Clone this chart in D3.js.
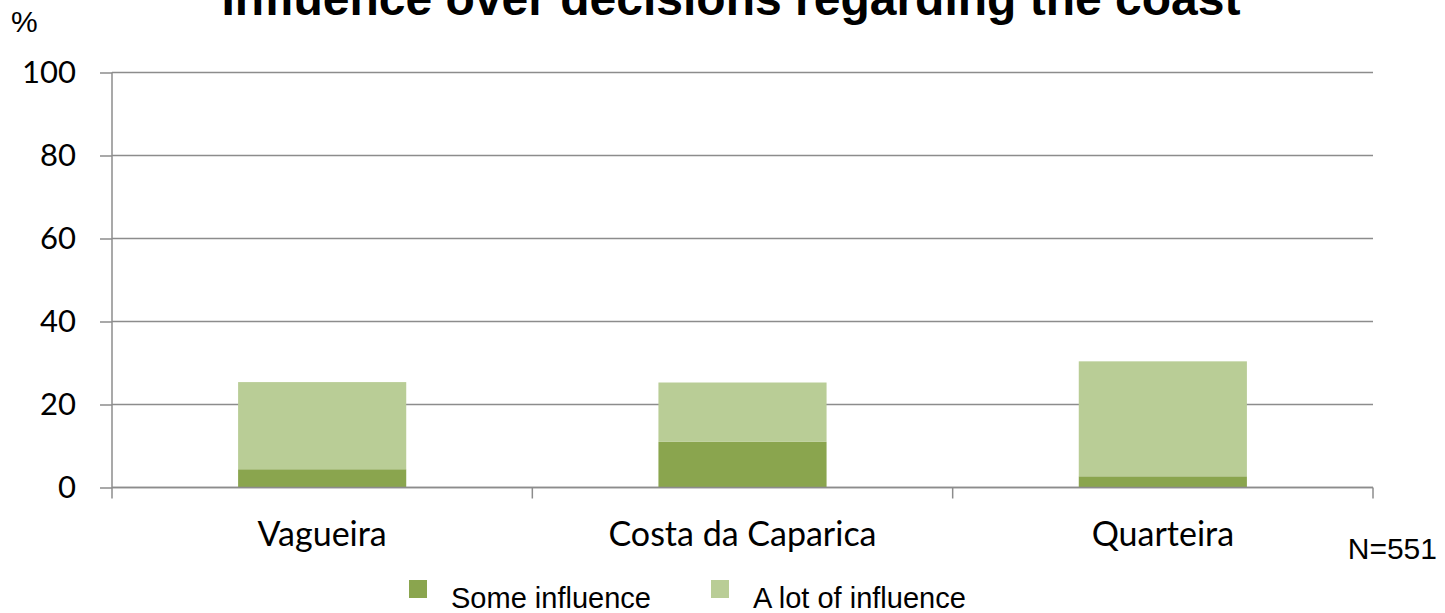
<!DOCTYPE html>
<html>
<head>
<meta charset="utf-8">
<script src="https://cdn.jsdelivr.net/npm/d3@7"></script>
<style>
  body { margin: 0; background: #fff; }
  svg { display: block; }
</style>
</head>
<body>
<div id="chart"></div>
<script>
// data
const categories = ["Vagueira", "Costa da Caparica", "Quarteira"];
const seriesNames = ["Some influence", "A lot of influence"];
const someInfluence = [4.4, 11.0, 2.7];
const aLotOfInfluence = [21.0, 14.3, 27.7];
const yTicks = [0, 20, 40, 60, 80, 100];
const colors = ["#8aa54e", "#b9cd96"];

const width = 1445, height = 613;
const margin = { top: 72, right: 72, bottom: 126, left: 112 };

const svg = d3.select("#chart").append("svg")
    .attr("width", width)
    .attr("height", height);

const x = d3.scaleBand()
    .domain(categories)
    .range([margin.left, width - margin.right])
    .paddingInner(0.6)
    .paddingOuter(0.3);

const y = d3.scaleLinear()
    .domain([0, 100])
    .range([height - margin.bottom + 0.5, margin.top + 0.5]);

// gridlines
svg.append("g")
    .selectAll("line")
    .data(yTicks)
    .join("line")
    .attr("x1", margin.left)
    .attr("x2", width - margin.right)
    .attr("y1", d => y(d))
    .attr("y2", d => y(d))
    .attr("stroke", "#8c8c8c")
    .attr("stroke-width", 1.5);

// stacked bars
const table = categories.map((c, i) => ({ cat: c, some: someInfluence[i], lot: aLotOfInfluence[i] }));
const stacked = d3.stack().keys(["some", "lot"])(table);

svg.append("g")
    .selectAll("g")
    .data(stacked)
    .join("g")
    .attr("fill", (d, i) => colors[i])
    .selectAll("rect")
    .data(d => d)
    .join("rect")
    .attr("x", d => x(d.data.cat))
    .attr("width", x.bandwidth())
    .attr("y", d => y(d[1]))
    .attr("height", d => y(d[0]) - y(d[1]));

// redraw baseline over bars
svg.append("line")
    .attr("x1", margin.left)
    .attr("x2", width - margin.right)
    .attr("y1", y(0))
    .attr("y2", y(0))
    .attr("stroke", "#8c8c8c")
    .attr("stroke-width", 1.5);

// y axis
const yAxis = svg.append("g")
    .attr("transform", `translate(${margin.left},0)`)
    .call(d3.axisLeft(y).tickValues(yTicks).tickSize(12).tickPadding(24));
yAxis.selectAll("line").attr("stroke", "#8c8c8c").attr("stroke-width", 1.5);
yAxis.select(".domain").remove();
yAxis.selectAll("text")
    .style("font-family", "Lato, sans-serif")
    .style("font-size", "31px")
    .attr("fill", "#000");

svg.append("line")
    .attr("x1", margin.left)
    .attr("x2", margin.left)
    .attr("y1", y(100))
    .attr("y2", y(0) + 11)
    .attr("stroke", "#8c8c8c")
    .attr("stroke-width", 1.5);

// x axis ticks at band boundaries
const step = x.step();
svg.append("g")
    .selectAll("line")
    .data(categories)
    .join("line")
    .attr("x1", d => x(d) + x.bandwidth() / 2 + step / 2)
    .attr("x2", d => x(d) + x.bandwidth() / 2 + step / 2)
    .attr("y1", y(0))
    .attr("y2", y(0) + 11)
    .attr("stroke", "#8c8c8c")
    .attr("stroke-width", 1.5);

const xAxis = svg.append("g")
    .attr("transform", `translate(0,${y(0)})`)
    .call(d3.axisBottom(x).tickSize(0).tickPadding(0));
xAxis.select(".domain").remove();
xAxis.selectAll("text")
    .attr("dy", null)
    .attr("y", 58)
    .style("font-family", "Lato, sans-serif")
    .style("font-size", "34px")
    .attr("fill", "#000");

// title
svg.append("text")
    .attr("x", 731)
    .attr("y", 15)
    .attr("text-anchor", "middle")
    .style("font-family", "'Liberation Sans', Arial, sans-serif")
    .style("font-weight", "bold")
    .style("font-size", "48px")
    .text("Influence over decisions regarding the coast");

svg.append("text")
    .attr("x", 11)
    .attr("y", 32)
    .style("font-family", "'Liberation Sans', Arial, sans-serif")
    .style("font-size", "30px")
    .text("%");

svg.append("text")
    .attr("x", 1437)
    .attr("y", 559)
    .attr("text-anchor", "end")
    .style("font-family", "'Liberation Sans', Arial, sans-serif")
    .style("font-size", "30px")
    .text("N=551");

// legend
const legendX = [409, 711];
const legend = svg.append("g");
seriesNames.forEach((n, i) => {
    legend.append("rect")
        .attr("x", legendX[i])
        .attr("y", 580)
        .attr("width", 18)
        .attr("height", 18)
        .attr("fill", colors[i]);
    legend.append("text")
        .attr("x", legendX[i] + 42)
        .attr("y", 608)
        .style("font-family", "'Liberation Sans', Arial, sans-serif")
        .style("font-size", "29px")
        .text(n);
});
</script>
</body>
</html>
